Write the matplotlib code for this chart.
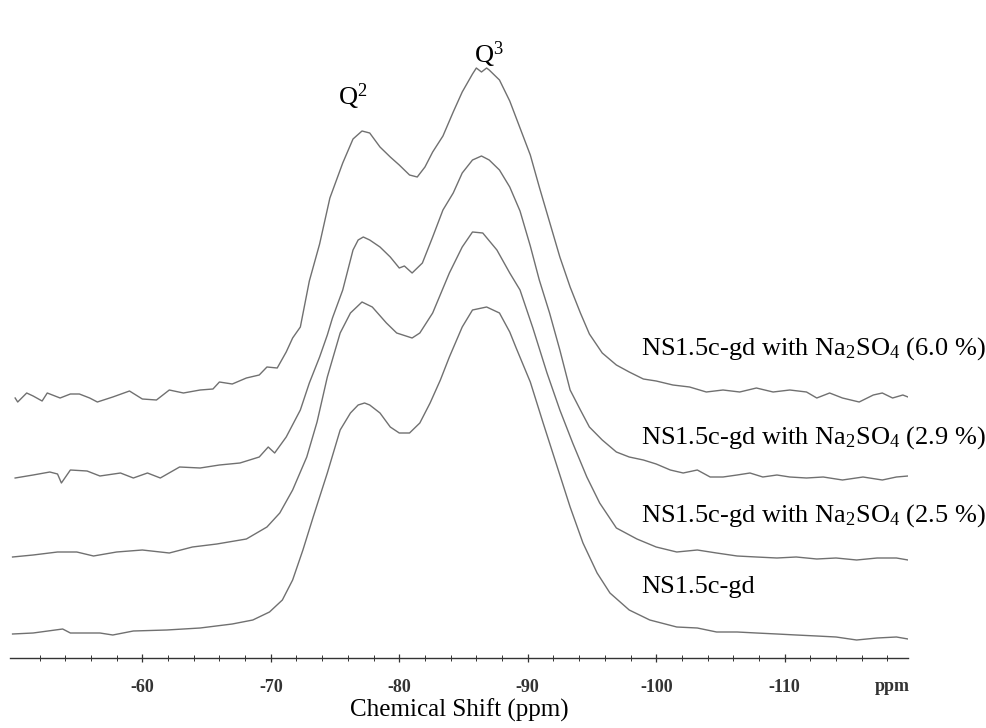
import numpy as np
import matplotlib
matplotlib.use('Agg')
import matplotlib.pyplot as plt

plt.rcParams['font.family'] = ['Liberation Serif', 'DejaVu Serif']
plt.rcParams['mathtext.fontset'] = 'custom'
plt.rcParams['mathtext.rm'] = 'Liberation Serif'
plt.rcParams['mathtext.it'] = 'Liberation Serif:italic'

# 29Si NMR spectra (x: ppm, y: intensity, arbitrary units with stacking offset)
ppm_60 = [-50.1, -50.3, -51.0, -51.5, -52.2, -52.6, -53.6, -54.4, -55.1, -55.9, -56.5, -57.7, -59.0, -60.0,
          -61.1, -62.1, -63.2, -64.5, -65.5, -66.0, -67.0, -68.1, -69.1, -69.7, -70.5, -71.2, -71.7, -72.3,
          -73.0, -73.8, -74.6, -75.6, -76.4, -77.1, -77.7, -78.5, -79.3, -80.0, -80.8, -81.4, -82.0, -82.6,
          -83.4, -84.2, -84.9, -85.7, -86.0, -86.4, -86.8, -87.0, -87.8, -88.6, -89.4, -90.2, -90.9, -91.7,
          -92.5, -93.3, -94.1, -94.8, -95.8, -96.9, -97.9, -99.0, -100.0, -101.3, -102.6, -103.9, -105.2,
          -106.5, -107.8, -109.1, -110.4, -111.7, -112.5, -113.5, -114.5, -115.8, -116.9, -117.6, -118.4,
          -119.2, -119.6]
int_60 = [260, 256, 265, 262, 257, 265, 260, 264, 264, 260, 256, 261, 267, 259,
          258, 268, 265, 268, 269, 276, 274, 280, 283, 291, 290, 306, 320, 331,
          377, 414, 460, 495, 519, 527, 525, 511, 501, 493, 483, 481, 491, 506,
          522, 546, 566, 584, 590, 586, 590, 588, 578, 557, 530, 503, 471, 436,
          401, 371, 345, 324, 305, 293, 286, 279, 277, 273, 271, 266, 268,
          266, 270, 266, 268, 266, 260, 265, 260, 256, 263, 265, 260,
          263, 261]

ppm_29 = [-50.1, -51.5, -52.8, -53.4, -53.7, -54.4, -55.7, -56.7, -58.3, -59.3, -60.4, -61.4, -62.9, -64.5,
          -66.0, -67.6, -69.1, -69.8, -70.3, -71.2, -72.3, -73.0, -73.8, -74.4, -74.8, -75.6, -76.4, -76.8,
          -77.2, -77.7, -78.5, -79.3, -80.0, -80.4, -81.0, -81.8, -82.6, -83.4, -84.2, -84.9, -85.7, -86.4,
          -87.0, -87.8, -88.6, -89.4, -90.2, -90.9, -91.7, -92.5, -93.3, -94.1, -94.8, -95.8, -96.9, -97.9,
          -99.0, -100.0, -101.1, -102.1, -103.2, -104.2, -105.2, -106.3, -107.3, -108.3, -109.4, -110.4,
          -111.7, -113.0, -114.5, -116.1, -117.6, -118.7, -119.6]
int_29 = [180, 183, 186, 184, 175, 188, 187, 182, 185, 180, 185, 180, 191, 190,
          193, 195, 201, 211, 205, 221, 248, 275, 301, 323, 340, 368, 408, 418,
          421, 418, 411, 401, 390, 392, 385, 395, 421, 448, 465, 485, 498, 502,
          498, 488, 471, 447, 412, 378, 345, 308, 268, 248, 231, 218, 206, 201,
          198, 194, 188, 185, 188, 181, 181, 183, 185, 181, 183, 181,
          180, 181, 178, 181, 178, 181, 182]

ppm_25 = [-49.9, -51.5, -53.4, -54.9, -56.2, -58.0, -60.0, -62.1, -63.9, -65.8, -68.1, -69.7, -70.7, -71.7,
          -72.8, -73.6, -74.4, -75.4, -76.2, -77.1, -77.9, -79.0, -79.8, -81.0, -81.6, -82.6, -83.9, -84.9,
          -85.7, -86.5, -87.6, -88.6, -89.4, -90.4, -91.5, -92.5, -93.5, -94.6, -95.6, -96.9, -98.5, -100.0,
          -101.6, -103.2, -104.7, -106.3, -107.8, -109.4, -110.9, -112.5, -114.0, -115.6, -117.2, -118.7,
          -119.6]
int_25 = [101, 103, 106, 106, 102, 106, 108, 105, 111, 114, 119, 131, 145, 168,
          201, 236, 281, 325, 345, 356, 351, 335, 325, 320, 325, 345, 385, 411,
          426, 425, 408, 385, 368, 330, 285, 248, 215, 181, 155, 130, 119, 111,
          106, 108, 105, 102, 101, 100, 101, 99, 100, 98, 100, 100,
          98]

ppm_0 = [-49.9, -51.5, -53.8, -54.4, -56.7, -57.7, -59.3, -61.9, -64.5, -67.0, -68.6, -69.9, -70.9, -71.7,
         -72.5, -73.3, -74.4, -75.4, -76.2, -76.8, -77.3, -77.7, -78.5, -79.3, -80.0, -80.8, -81.6, -82.4,
         -83.2, -83.9, -84.9, -85.7, -86.8, -87.8, -88.6, -89.1, -90.2, -91.2, -92.3, -93.3, -94.3, -95.4,
         -96.4, -97.9, -99.5, -101.6, -103.2, -104.7, -106.3, -107.8, -109.4, -110.9, -112.5, -114.0,
         -115.6, -117.2, -118.7, -119.6]
int_0 = [24, 25, 29, 25, 25, 23, 27, 28, 30, 34, 38, 46, 58, 78,
         108, 141, 185, 228, 245, 253, 255, 253, 245, 231, 225, 225, 235, 255,
         278, 301, 331, 348, 351, 345, 326, 310, 276, 235, 191, 151, 115, 85,
         65, 48, 38, 31, 30, 26, 26, 25, 24, 23, 22, 21,
         18, 20, 21, 19]

labels = ['NS1.5c-gd with Na$_2$SO$_4$ (6.0 %)', 'NS1.5c-gd with Na$_2$SO$_4$ (2.9 %)',
          'NS1.5c-gd with Na$_2$SO$_4$ (2.5 %)', 'NS1.5c-gd']
label_y = [309, 220, 142, 71]
tick_vals = [-60, -70, -80, -90, -100, -110]

fig = plt.figure(figsize=(9.87, 7.28), dpi=100)
ax = fig.add_axes([10 / 987, 70 / 728, 898 / 987, 658 / 728])

for x, y in [(ppm_60, int_60), (ppm_29, int_29), (ppm_25, int_25), (ppm_0, int_0)]:
    ax.plot(x, y, color='#707070', lw=1.0)

ax.set_xlim(-49.7, -119.6)
ax.set_ylim(0, 658)

for s in ['left', 'top', 'right']:
    ax.spines[s].set_visible(False)
ax.spines['bottom'].set_color('#333333')
ax.spines['bottom'].set_linewidth(1.0)
ax.set_yticks([])
ax.set_xticks(tick_vals)
ax.set_xticks(np.arange(-52, -120, -2), minor=True)
ax.set_xticklabels([str(t) for t in tick_vals], fontweight='bold', fontsize=13)
ax.tick_params(axis='x', which='major', direction='inout', length=6, width=0.9, pad=12, colors='#333333')
ax.tick_params(axis='x', which='minor', direction='inout', length=4, width=0.7, colors='#333333')
ax.text(-118.4, -(3 + 12 * 100 / 72) / 658, 'ppm', transform=ax.get_xaxis_transform(), ha='center', va='top',
        fontweight='bold', fontsize=13, color='#333333')
ax.set_xlabel('Chemical Shift (ppm)', fontsize=18, labelpad=2)

# peak labels
ax.text(-76.4, 561, 'Q$^2$', ha='center', va='center', fontsize=19)
ax.text(-87.0, 603, 'Q$^3$', ha='center', va='center', fontsize=19)

for lab, ly in zip(labels, label_y):
    ax.text(-98.8, ly, lab, ha='left', va='center', fontsize=19, clip_on=False)

fig.savefig('out.png', dpi=100)
